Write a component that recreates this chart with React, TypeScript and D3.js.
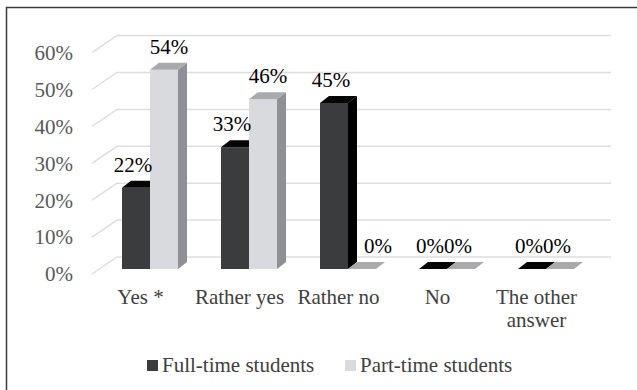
import * as d3 from 'd3';

const categories = ['Yes *', 'Rather yes', 'Rather no', 'No', 'The other answer'];
const categoryLines = [['Yes *'], ['Rather yes'], ['Rather no'], ['No'], ['The other', 'answer']];
const fullTime = [0.22, 0.33, 0.45, 0, 0];
const partTime = [0.54, 0.46, 0, 0, 0];
const seriesNames = ['Full-time students', 'Part-time students'];
const yTicks = [0, 0.1, 0.2, 0.3, 0.4, 0.5, 0.6];

const W = 637;
const H = 390;
const FONT = '"Liberation Serif", "Times New Roman", serif';

// bar colours: front, top, side
const palettes = [
  { front: '#3b3c3e', top: '#050505', side: '#000000', legend: '#3b3c3e' },
  { front: '#d9dadd', top: '#a9aaac', side: '#8f9095', legend: '#d9dadd' },
];

export default function App() {
  const y = d3.scaleLinear().domain([0, 0.6]).range([269, 269 - 6 * 36.9]);
  const x = d3.scaleBand().domain(categories).range([100.5, 595.5]);
  const barW = 28;
  const dx = 9;
  const dy = -7;
  const fmt = d3.format('.0%');

  const series = [fullTime, partTime];

  // label centre relative to the bar's front-left corner
  const labelOffset = (si: number, ci: number) => {
    const v = series[si][ci];
    if (si === 0) return 11;
    if (v === 0 && series[0][ci] > 0) return 30; // keep clear of the taller neighbour's side
    return v === 0 ? 11 : 19;
  };

  return (
    <svg
      width={W}
      height={H}
      style={{ position: 'absolute', left: 0, top: 0, background: '#fff' }}
      fontFamily={FONT}
    >
      <rect x={0} y={0} width={W} height={H} fill="#fff" />
      <rect x={6.5} y={7.5} width={W + 20} height={H + 20} fill="none" stroke="#3a3a3a" strokeWidth={1.5} />

      {/* gridlines (back wall + floor diagonal) */}
      {yTicks.map((t) => (
        <g key={t}>
          <polyline
            points={`92,${y(t) + 5} 117,${y(t) - 12} 611,${y(t) - 12}`}
            fill="none"
            stroke="#dedede"
            strokeWidth={1.5}
          />
          <text
            x={73}
            y={y(t) + 5}
            dy="0.35em"
            textAnchor="end"
            fontSize={21}
            fill="#595959"
          >
            {fmt(t)}
          </text>
        </g>
      ))}

      {/* bars */}
      {categories.map((c, ci) => {
        const cx = x(c)! + x.bandwidth() / 2;
        return (
          <g key={c}>
            {series.map((vals, si) => {
              const v = vals[ci];
              const bx = cx - barW + si * barW;
              const yv = y(v);
              const y0 = y(0);
              const p = palettes[si];
              return (
                <g key={si}>
                  {v > 0 && <rect x={bx} y={yv} width={barW} height={y0 - yv} fill={p.front} />}
                  {v > 0 && (
                    <polygon
                      points={`${bx + barW},${yv} ${bx + barW + dx},${yv + dy} ${bx + barW + dx},${y0 + dy} ${bx + barW},${y0}`}
                      fill={p.side}
                    />
                  )}
                  <polygon
                    points={`${bx},${yv} ${bx + dx},${yv + dy} ${bx + barW + dx},${yv + dy} ${bx + barW},${yv}`}
                    fill={p.top}
                  />
                </g>
              );
            })}
          </g>
        );
      })}

      {/* value labels */}
      {categories.map((c, ci) => {
        const cx = x(c)! + x.bandwidth() / 2;
        return series.map((vals, si) => {
          const v = vals[ci];
          const bx = cx - barW + si * barW;
          return (
            <text
              key={`${c}-${si}`}
              x={bx + labelOffset(si, ci)}
              y={y(v) + dy - 9}
              textAnchor="middle"
              fontSize={21}
              fill="#000"
            >
              {fmt(v)}
            </text>
          );
        });
      })}

      {/* category labels */}
      {categories.map((c, ci) => (
        <text
          key={c}
          x={x(c)! + x.bandwidth() / 2 - 9.5}
          y={304}
          textAnchor="middle"
          fontSize={21}
          fill="#404040"
        >
          {categoryLines[ci].map((line, li) => (
            <tspan key={li} x={x(c)! + x.bandwidth() / 2 - 9.5} dy={li === 0 ? 0 : 23}>
              {line}
            </tspan>
          ))}
        </text>
      ))}

      {/* legend */}
      {seriesNames.map((name, i) => {
        const lx = [147, 345][i];
        return (
          <g key={name}>
            <rect x={lx} y={360} width={11} height={11} fill={palettes[i].legend} />
            <text x={lx + 15} y={372} fontSize={21} fill="#404040">
              {name}
            </text>
          </g>
        );
      })}
    </svg>
  );
}
